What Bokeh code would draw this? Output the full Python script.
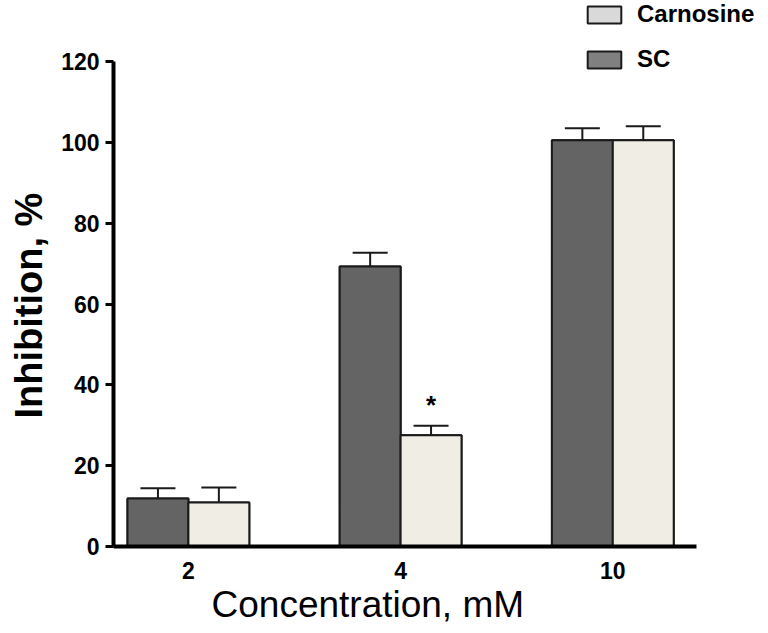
from bokeh.plotting import figure
from bokeh.models import (ColumnDataSource, Range1d, FixedTicker, Whisker, TeeHead,
                          Legend, LegendItem, Title)
from bokeh.transform import dodge
from bokeh.core.properties import value
from bokeh.embed import file_html
from bokeh.resources import INLINE

# ---- data ----
concentrations = ["2", "4", "10"]
sc_values = [11.9, 69.3, 100.5]
sc_errors = [2.5, 3.4, 3.0]
carnosine_values = [10.9, 27.5, 100.5]
carnosine_errors = [3.7, 2.4, 3.5]
significance = ["", "*", ""]
y_ticks = [0, 20, 40, 60, 80, 100, 120]

FONT = "Liberation Sans"
DARK = "#646464"
LIGHT = "#efede4"
EDGE = "#1a1a1a"
BAR_W = 0.287
OFF = BAR_W / 2

pos = list(range(len(concentrations)))
src = ColumnDataSource(dict(
    x=pos,
    sc=sc_values,
    sc_top=[v + e for v, e in zip(sc_values, sc_errors)],
    carn=carnosine_values,
    carn_top=[v + e for v, e in zip(carnosine_values, carnosine_errors)],
    sig=significance,
))

p = figure(width=760, height=625, output_backend="svg", toolbar_location=None,
           x_range=Range1d(-0.353, 2.696), y_range=Range1d(0, 135.1),
           min_border_left=112, min_border_right=0, min_border_top=0,
           min_border_bottom=79)
p.outline_line_color = None
p.xgrid.visible = False
p.ygrid.visible = False
p.background_fill_color = "white"

# key swatches (drawn underneath the real bars, used only for the legend colours)
lg_sc = p.vbar(x=dodge("x", -OFF), top="sc", width=BAR_W, source=src,
               fill_color="#808080", line_color=EDGE, line_width=2)
lg_carn = p.vbar(x=dodge("x", OFF), top="carn", width=BAR_W, source=src,
                 fill_color="#d9d9d9", line_color=EDGE, line_width=2)

sc_r = p.vbar(x=dodge("x", -OFF), top="sc", width=BAR_W, source=src,
              fill_color=DARK, line_color=EDGE, line_width=2)
carn_r = p.vbar(x=dodge("x", OFF), top="carn", width=BAR_W, source=src,
                fill_color=LIGHT, line_color=EDGE, line_width=2)

for col_base, col_top, off in (("sc", "sc_top", -OFF), ("carn", "carn_top", OFF)):
    w = Whisker(base=dodge("x", off), lower=col_base, upper=col_top, source=src,
                line_color=EDGE, line_width=2,
                upper_head=TeeHead(size=35, line_color=EDGE, line_width=2),
                lower_head=None, level="underlay")
    p.add_layout(w)

p.text(x=dodge("x", OFF), y=dodge("carn_top", 5.2), text="sig", source=src,
       text_font=value(FONT), text_font_style="bold", text_font_size="26px",
       text_align="center", text_baseline="middle", text_color="black")

legend = Legend(items=[LegendItem(label="Carnosine", renderers=[lg_carn]),
                       LegendItem(label="SC", renderers=[lg_sc])],
                location=(470, 473), orientation="vertical",
                glyph_width=42, glyph_height=21, label_height=21,
                label_standoff=12, spacing=17, padding=0, margin=0,
                border_line_alpha=0, background_fill_alpha=0,
                label_text_font=FONT, label_text_font_style="bold",
                label_text_font_size="24px", label_text_baseline="middle",
                label_text_color="black")
p.add_layout(legend, "center")

# axes
yax = p.yaxis[0]
yax.ticker = FixedTicker(ticks=y_ticks)
yax.bounds = (0, 120)
yax.axis_line_width = 4
yax.axis_line_color = "black"
yax.major_tick_line_width = 3
yax.major_tick_out = 8
yax.major_tick_in = 0
yax.minor_tick_line_color = None
yax.major_label_text_font = FONT
yax.major_label_text_font_style = "bold"
yax.major_label_text_font_size = "23px"
yax.major_label_text_color = "black"
yax.major_label_standoff = 6

xax = p.xaxis[0]
xax.ticker = FixedTicker(ticks=pos)
xax.bounds = (-0.353, 2.395)
xax.major_label_overrides = {i: c for i, c in zip(pos, concentrations)}
xax.axis_line_width = 4
xax.axis_line_color = "black"
xax.major_tick_line_color = None
xax.minor_tick_line_color = None
xax.major_label_text_font = FONT
xax.major_label_text_font_style = "bold"
xax.major_label_text_font_size = "23px"
xax.major_label_text_color = "black"
xax.major_label_standoff = 9

p.add_layout(Title(text="Inhibition, %", align="left", offset=128,
                   vertical_align="top",
                   text_font=FONT, text_font_style="bold", text_font_size="38px",
                   text_color="black", standoff=14), "left")
p.add_layout(Title(text="Concentration, mM", align="left", offset=98,
                   text_font=FONT, text_font_style="normal", text_font_size="37px",
                   text_color="black", standoff=0), "below")

open("out.html", "w").write(file_html(p, INLINE))
